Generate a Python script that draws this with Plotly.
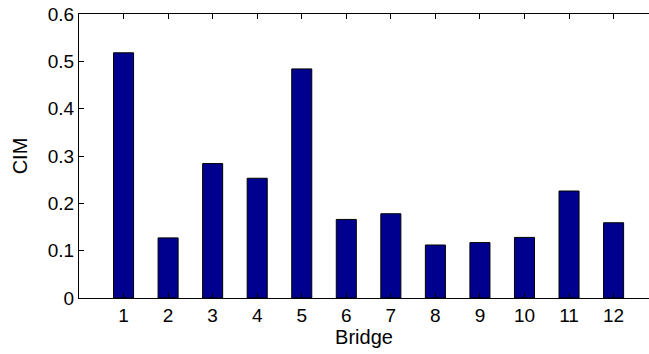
import plotly.graph_objects as go

# Bridge index and CIM value per bridge
bridges = [1, 2, 3, 4, 5, 6, 7, 8, 9, 10, 11, 12]
cim = [0.518, 0.127, 0.284, 0.253, 0.484, 0.166, 0.178, 0.112, 0.117, 0.128, 0.226, 0.159]
y_ticks = [0, 0.1, 0.2, 0.3, 0.4, 0.5, 0.6]
y_tick_text = ["0", "0.1", "0.2", "0.3", "0.4", "0.5", "0.6"]

font_family = "Liberation Sans, Arial, Helvetica, sans-serif"

fig = go.Figure(
    go.Bar(
        x=bridges,
        y=cim,
        width=0.45,
        marker=dict(color="#00008F", line=dict(color="black", width=1)),
    )
)

fig.update_layout(
    width=649,
    height=354,
    margin=dict(l=79, r=0, t=14, b=56),
    paper_bgcolor="white",
    plot_bgcolor="white",
    showlegend=False,
    font=dict(family=font_family, size=20, color="black"),
)

fig.update_xaxes(
    range=[0, 12.795],
    tickmode="array",
    tickvals=bridges,
    ticktext=[str(b) for b in bridges],
    ticks="inside",
    ticklen=5,
    tickwidth=1,
    tickcolor="black",
    showline=True,
    linecolor="black",
    linewidth=1,
    mirror="allticks",
    showgrid=False,
    zeroline=False,
    tickfont=dict(size=19),
    title=dict(text="Bridge", font=dict(size=20), standoff=4),
)

fig.update_yaxes(
    range=[0, 0.6],
    tickmode="array",
    tickvals=y_ticks,
    ticktext=y_tick_text,
    ticks="inside",
    ticklen=5,
    tickwidth=1,
    tickcolor="black",
    showline=True,
    linecolor="black",
    linewidth=1,
    mirror=False,
    showgrid=False,
    zeroline=False,
    tickfont=dict(size=19),
    title=dict(text="CIM", font=dict(size=20), standoff=14),
)

fig.write_html("out.html")
